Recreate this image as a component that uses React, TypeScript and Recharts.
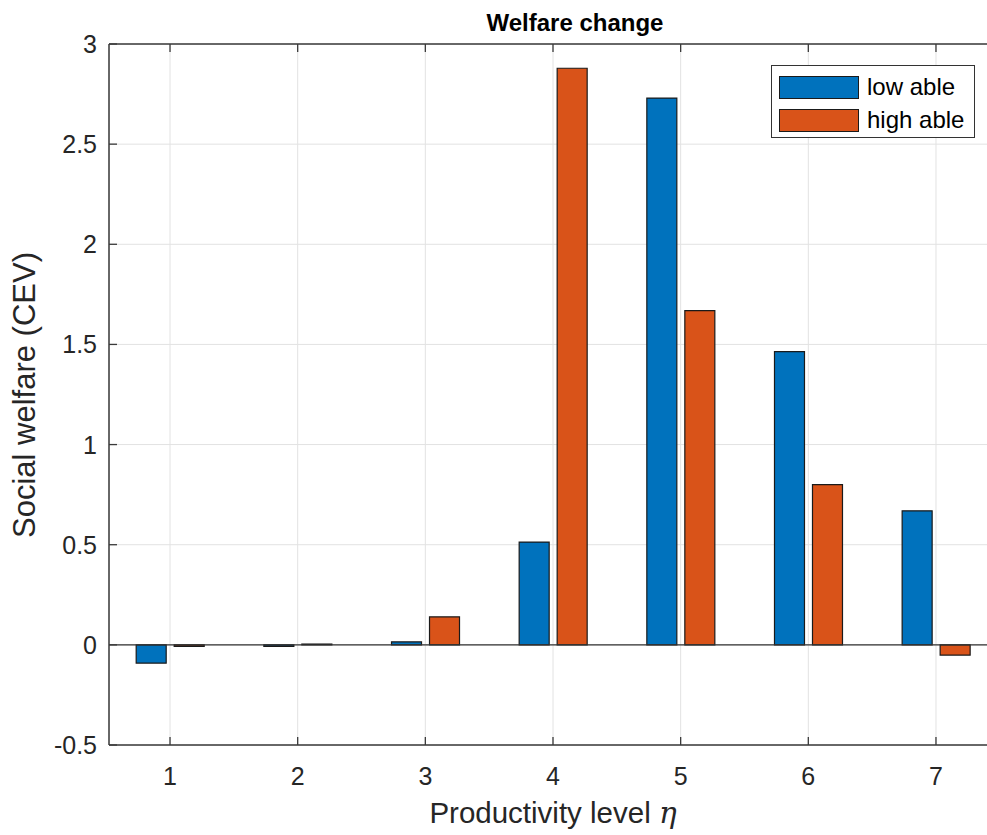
import React from 'react';
import { BarChart, Bar, XAxis, YAxis, CartesianGrid, ReferenceLine } from 'recharts';

const levels = [1, 2, 3, 4, 5, 6, 7];
const lowAble = [-0.091, -0.008, 0.015, 0.513, 2.73, 1.464, 0.669];
const highAble = [-0.008, 0.004, 0.14, 2.879, 1.669, 0.8, -0.051];
const yTicks = [-0.5, 0, 0.5, 1, 1.5, 2, 2.5, 3];
const xTicks = [1, 2, 3, 4, 5, 6, 7];
const seriesNames = ['low able', 'high able'];
const seriesColors = ['#0072BD', '#D95319'];
const titleText = 'Welfare change';
const xLabelText = 'Productivity level ';
const yLabelText = 'Social welfare (CEV)';

const data = levels.map((l, i) => ({ level: l, low: lowAble[i], high: highAble[i] }));

const FONT = '"Liberation Sans", Arial, Helvetica, sans-serif';
const TXT = '#262626';
const AXIS = '#3a3a3a';

const BottomTick = (props: any) => {
  const { x, payload } = props;
  const y0 = 745;
  return (
    <g>
      <line x1={x} x2={x} y1={y0} y2={y0 - 8} stroke={AXIS} strokeWidth={1.3} />
      <text x={x} y={y0 + 40} textAnchor="middle" fontSize={25} fontFamily={FONT} fill={TXT}>
        {payload.value}
      </text>
    </g>
  );
};

const TopTick = (props: any) => {
  const { x } = props;
  const y0 = 44;
  return <line x1={x} x2={x} y1={y0} y2={y0 + 8} stroke={AXIS} strokeWidth={1.3} />;
};

const LeftTick = (props: any) => {
  const { y, payload } = props;
  const x0 = 109;
  return (
    <g>
      <line x1={x0} x2={x0 + 8} y1={y} y2={y} stroke={AXIS} strokeWidth={1.3} />
      <text x={x0 - 12} y={y + 9} textAnchor="end" fontSize={25} fontFamily={FONT} fill={TXT}>
        {payload.value}
      </text>
    </g>
  );
};

export default function App() {
  return (
    <div style={{ position: 'fixed', left: 0, top: 0, width: 987, height: 835, overflow: 'hidden', background: '#fff' }}>
      <BarChart
        width={1010}
        height={835}
        data={data}
        margin={{ top: 43, right: 13, bottom: 89, left: 108 }}
        barSize={30}
        barGap={8}
      >
        <CartesianGrid stroke="#e2e2e2" strokeWidth={1} />
        <XAxis
          dataKey="level"
          type="number"
          domain={[0.522, 7.478]}
          ticks={xTicks}
          allowDataOverflow
          height={1}
          tickSize={0}
          tickMargin={0}
          tickLine={false}
          tick={<BottomTick />}
          axisLine={false}
          interval={0}
        />
        <XAxis
          xAxisId="top"
          orientation="top"
          dataKey="level"
          type="number"
          domain={[0.522, 7.478]}
          ticks={xTicks}
          allowDataOverflow
          height={1}
          tickSize={0}
          tickMargin={0}
          tickLine={false}
          tick={<TopTick />}
          axisLine={false}
          interval={0}
        />
        <YAxis
          type="number"
          domain={[-0.5, 3]}
          ticks={yTicks}
          allowDataOverflow
          width={1}
          tickSize={0}
          tickMargin={0}
          tickLine={false}
          tick={<LeftTick />}
          axisLine={false}
          interval={0}
        />
        <ReferenceLine y={0} stroke="#333333" strokeWidth={1.3} />
        <ReferenceLine y={3} stroke={AXIS} strokeWidth={1.5} />
        <ReferenceLine y={-0.5} stroke={AXIS} strokeWidth={1.5} />
        <ReferenceLine x={0.522} stroke={AXIS} strokeWidth={1.5} />
        <Bar dataKey="low" name={seriesNames[0]} fill={seriesColors[0]} stroke="#1a1a1a" strokeWidth={1.2} isAnimationActive={false} />
        <Bar dataKey="high" name={seriesNames[1]} fill={seriesColors[1]} stroke="#1a1a1a" strokeWidth={1.2} isAnimationActive={false} />
      </BarChart>
      <svg width={987} height={835} style={{ position: 'absolute', left: 0, top: 0, pointerEvents: 'none' }}>
        <text x={575} y={31} textAnchor="middle" fontSize={24} fontWeight="bold" fontFamily={FONT} fill="#000">
          {titleText}
        </text>
        <text x={553} y={823} textAnchor="middle" fontSize={29.5} fontFamily={FONT} fill={TXT}>
          {xLabelText}
          <tspan fontStyle="italic" fontFamily="'DejaVu Serif', 'Liberation Serif', serif">η</tspan>
        </text>
        <text
          x={35}
          y={395}
          textAnchor="middle"
          fontSize={31}
          fontFamily={FONT}
          fill={TXT}
          transform="rotate(-90, 35, 395)"
        >
          {yLabelText}
        </text>
      </svg>
      <div
        style={{
          position: 'absolute',
          left: 771,
          top: 65,
          width: 202,
          height: 71,
          border: '1.5px solid #333',
          background: '#fff',
          fontFamily: FONT,
          color: '#000',
        }}
      >
        {seriesNames.map((n, i) => (
          <div key={n} style={{ position: 'absolute', left: 7, top: 9 + i * 33, height: 24, display: 'flex', alignItems: 'center' }}>
            <div style={{ width: 80, height: 23, background: seriesColors[i], border: '1px solid #1a1a1a', boxSizing: 'border-box' }} />
            <span style={{ marginLeft: 8, fontSize: 24, lineHeight: '24px', whiteSpace: 'nowrap' }}>{n}</span>
          </div>
        ))}
      </div>
    </div>
  );
}
